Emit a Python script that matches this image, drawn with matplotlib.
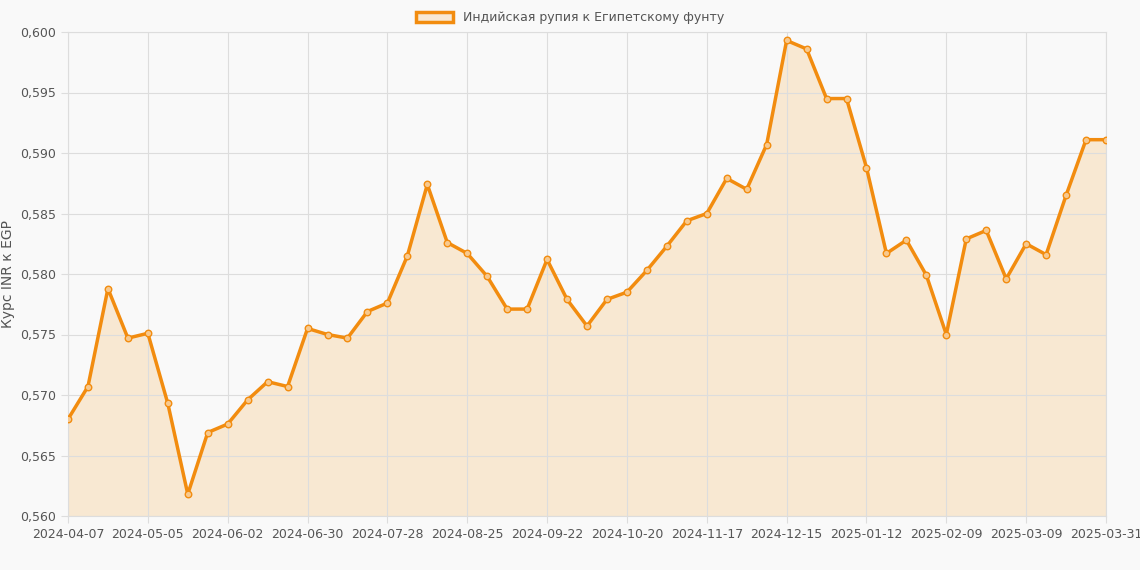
import numpy as np
import matplotlib.pyplot as plt
from matplotlib.patches import Patch

# Weekly INR -> EGP rate
rates = [0.5680, 0.5707, 0.5788, 0.5747, 0.5751, 0.5693, 0.5618, 0.5669, 0.5676, 0.5696,
         0.5711, 0.5707, 0.5755, 0.5750, 0.5747, 0.5769, 0.5776, 0.5815, 0.5874, 0.5826,
         0.5817, 0.5798, 0.5771, 0.5771, 0.5812, 0.5779, 0.5757, 0.5779, 0.5785, 0.5803,
         0.5823, 0.5844, 0.5850, 0.5879, 0.5870, 0.5907, 0.5993, 0.5986, 0.5945, 0.5945,
         0.5888, 0.5817, 0.5828, 0.5799, 0.5750, 0.5829, 0.5836, 0.5796, 0.5825, 0.5816,
         0.5865, 0.5911, 0.5911]
tick_labels = ['2024-04-07', '2024-05-05', '2024-06-02', '2024-06-30', '2024-07-28',
               '2024-08-25', '2024-09-22', '2024-10-20', '2024-11-17', '2024-12-15',
               '2025-01-12', '2025-02-09', '2025-03-09', '2025-03-31']
tick_index = [0, 4, 8, 12, 16, 20, 24, 28, 32, 36, 40, 44, 48, 52]

LINE = '#f28c0f'
FILL = '#f8e8d2'
BG = '#f9f9f9'

x = np.arange(len(rates))
fig = plt.figure(figsize=(11.4, 5.7), dpi=100, facecolor=BG)
ax = fig.add_axes([68 / 1140, 1 - 516 / 570, (1106 - 68) / 1140, (516 - 32) / 570])
ax.set_facecolor(BG)

ax.fill_between(x, rates, 0.56, color=FILL, zorder=1)
ax.plot(x, rates, color=LINE, lw=2.5, zorder=3)
ax.scatter(x, rates, s=22, facecolor='#f7c98f', edgecolor=LINE, lw=1, zorder=4)

ax.set_xlim(0, len(rates) - 1)
ax.set_ylim(0.56, 0.60)
ax.set_xticks(tick_index)
ax.set_xticklabels(tick_labels)
ax.set_xticks(range(len(rates)), minor=False) if False else None
yt = np.arange(0.56, 0.6001, 0.005)
ax.set_yticks(yt)
ax.set_yticklabels([f'{v:.3f}'.replace('.', ',') for v in yt])
ax.grid(True, color='#dddddd', lw=0.8, zorder=0)
ax.tick_params(colors='#555555', labelsize=9, length=5, color='#dddddd')
for s in ax.spines.values():
    s.set_color('#dddddd')
ax.set_ylabel('Курс INR к EGP', color='#555555', fontsize=10)

fig.legend(handles=[Patch(facecolor=FILL, edgecolor=LINE, lw=2.5)],
           labels=['Индийская рупия к Египетскому фунту'], loc='upper center',
           bbox_to_anchor=(0.5, 1.0), frameon=False, fontsize=9, labelcolor='#555555',
           handlelength=3, handleheight=0.9)

fig.savefig('out.png', dpi=100, facecolor=BG)
